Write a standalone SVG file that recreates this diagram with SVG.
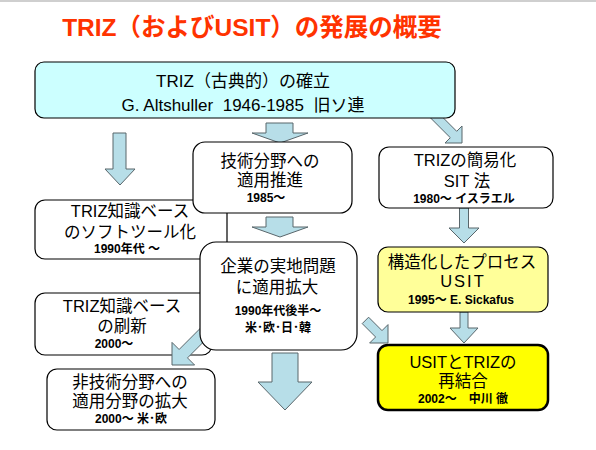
<svg xmlns="http://www.w3.org/2000/svg" width="596" height="450" viewBox="0 0 596 450">
<style>
.t{font-family:"Liberation Sans","Noto Sans CJK JP",sans-serif;text-anchor:middle;fill:#000;white-space:pre}
.m{font-size:16.5px}
.L{font-size:17px}
.s{font-size:12px;font-weight:bold}
.box{fill:#fff;stroke:#000;stroke-width:1.2}
.arr{fill:#b7dee8;stroke:#59666b;stroke-width:1}
</style>
<rect x="0" y="0" width="596" height="450" fill="#fff"/>
<line x1="0" y1="1" x2="596" y2="1" stroke="#cfcfcf" stroke-width="2"/>
<text class="t" x="252" y="36" style="font-size:24.5px;font-weight:bold;fill:#ff3300">TRIZ（およびUSIT）の発展の概要</text>

<g id="node-soft">
<rect class="box" x="35" y="200" width="192" height="59" rx="10"/>
<text class="t m" x="130" y="217">TRIZ知識ベース</text>
<text class="t m" x="130" y="238">のソフトツール化</text>
<text class="t s" x="127" y="253">1990年代 ～</text>
</g>
<g id="node-refresh">
<rect class="box" x="35" y="293" width="177" height="62" rx="10"/>
<text class="t m" x="122" y="312">TRIZ知識ベース</text>
<text class="t m" x="122" y="332">の刷新</text>
<text class="t s" x="114" y="348">2000～</text>
</g>

<g id="connectors">
<polygon class="arr" points="113,133 126,133 126,169 135,169 120,185 105,169 113,169"/>
<polygon class="arr" points="266,123 293,123 293,133 308,133 280,143 252,133 266,133"/>
<polygon class="arr" points="266,217 293,217 293,227 308,227 280,237 252,227 266,227"/>
<polygon class="arr" points="272,353 298,353 298,382 312,382 285,410 258,382 272,382"/>
<polygon class="arr" points="459.5,208 468.5,208 468.5,228 479,228 464,243 449,228 459.5,228"/>
<polygon class="arr" points="460,312 468,312 468,328 478,328 464,343 450,328 460,328"/>
<polygon class="arr" points="435.5,110.1 456.7,131.3 462,126 462,143 445,143 450.3,137.7 429.1,116.5"/>
<polygon class="arr" points="211.6,333.8 187.5,357.9 194.6,365 172,365 172,342.4 179.1,349.5 203.2,325.4"/>
<polygon class="arr" points="368.6,317.2 382,330.6 388,324.6 388,343 369.6,343 375.6,337 362.2,323.6"/>
</g>

<g id="node-classic">
<rect x="35" y="62" width="420" height="56" rx="9" fill="#ccffff" stroke="#000" stroke-width="1.2"/>
<text class="t L" x="243" y="87">TRIZ（古典的）の確立</text>
<text class="t L" x="243" y="111">G. Altshuller  1946-1985  旧ソ連</text>
</g>
<g id="node-tech">
<rect class="box" x="193" y="142" width="159" height="71" rx="12"/>
<text class="t m" x="270" y="167">技術分野への</text>
<text class="t m" x="270" y="186">適用推進</text>
<text class="t s" x="266" y="202">1985～</text>
</g>
<g id="node-corp">
<rect class="box" x="200" y="242" width="157" height="108" rx="16"/>
<text class="t m" x="278" y="272">企業の実地問題</text>
<text class="t m" x="277" y="293">に適用拡大</text>
<text class="t s" x="278" y="315">1990年代後半～</text>
<text class="t s" x="278" y="332">米･欧･日･韓</text>
</g>
<g id="node-sit">
<rect class="box" x="379" y="147" width="174" height="61" rx="10"/>
<text class="t m" x="465" y="166">TRIZの簡易化</text>
<text class="t m" x="467" y="187">SIT 法</text>
<text class="t s" x="464" y="203">1980～ イスラエル</text>
</g>
<g id="node-usit">
<rect x="378" y="247" width="170" height="65" rx="10" fill="#ffff99" stroke="#000" stroke-width="1.2"/>
<text class="t m" x="462" y="268">構造化したプロセス</text>
<text class="t m" x="463" y="287" style="letter-spacing:2px">USIT</text>
<text class="t s" x="461" y="304">1995～ E. Sickafus</text>
</g>
<g id="node-reunite">
<rect x="378" y="345" width="170" height="65" rx="10" fill="#ffff00" stroke="#000" stroke-width="2.5"/>
<text class="t m" x="463" y="368">USITとTRIZの</text>
<text class="t m" x="463" y="387">再結合</text>
<text class="t s" x="463" y="403">2002～　中川 徹</text>
</g>
<g id="node-nontech">
<rect class="box" x="47" y="369" width="168" height="61" rx="10"/>
<text class="t m" x="130" y="388">非技術分野への</text>
<text class="t m" x="130" y="407">適用分野の拡大</text>
<text class="t s" x="131" y="423">2000～ 米･欧</text>
</g>
</svg>
